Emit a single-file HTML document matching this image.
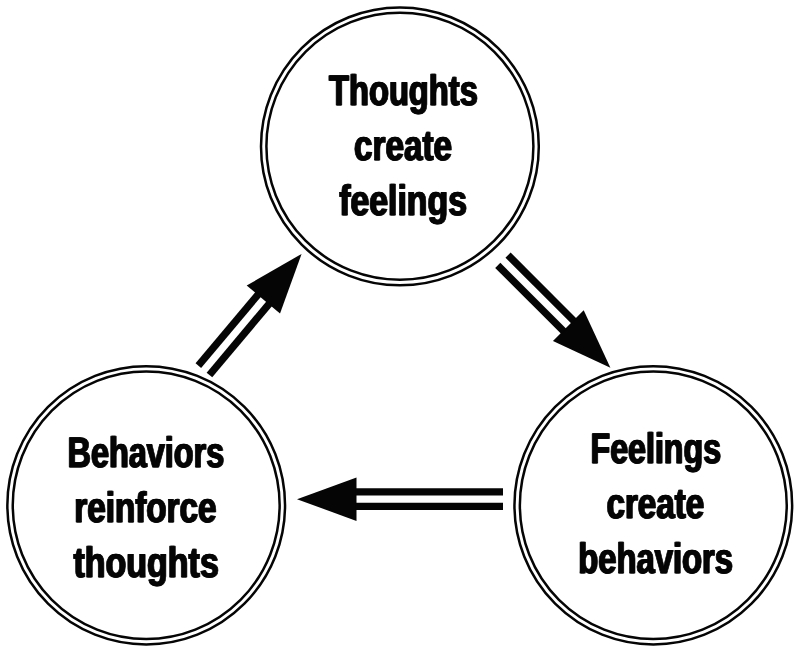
<!DOCTYPE html>
<html lang="en">
<head>
<meta charset="utf-8">
<title>Thoughts, feelings, behaviors cycle</title>
<style>
html,body{margin:0;padding:0;background:#fff;}
body{width:800px;height:650px;overflow:hidden;}
svg{display:block;}
.rings ellipse{fill:none;stroke:#050505;stroke-width:2.5;}
.labels text{font-family:"Liberation Sans",sans-serif;font-weight:bold;font-size:42.6px;text-rendering:geometricPrecision;fill:#050505;stroke:#050505;stroke-width:0.8;stroke-linejoin:round;}
</style>
</head>
<body>
<svg width="800" height="650" viewBox="0 0 800 650">
<defs>
<filter id="bold" x="0" y="0" width="800" height="650" filterUnits="userSpaceOnUse" color-interpolation-filters="sRGB">
<feOffset in="SourceGraphic" dx="1" dy="0" result="shifted"/>
<feMerge><feMergeNode in="SourceGraphic"/><feMergeNode in="shifted"/></feMerge>
</filter>
</defs>
<rect width="800" height="650" fill="#fff"/>
<g class="rings">
<ellipse cx="399.9" cy="146.4" rx="138.9" ry="138.93"/>
<ellipse cx="399.9" cy="146.3" rx="133.5" ry="133.5"/>
<ellipse cx="146.2" cy="505.3" rx="138.85" ry="139.15"/>
<ellipse cx="146.2" cy="505.3" rx="133.45" ry="133.75"/>
<ellipse cx="653.3" cy="505.3" rx="138.85" ry="139.15"/>
<ellipse cx="653.3" cy="505.3" rx="133.45" ry="133.8"/>
</g>
<g class="arrows" fill="#050505">
<polygon points="301.60,253.90 280.02,313.46 246.69,285.50"/>
<line x1="209.45" y1="375.00" x2="269.55" y2="303.37" stroke="#050505" stroke-width="7.30"/>
<line x1="198.34" y1="365.68" x2="258.44" y2="294.05" stroke="#050505" stroke-width="7.30"/>
<polygon points="610.40,367.70 552.95,341.01 583.71,310.25"/>
<line x1="497.79" y1="265.35" x2="563.91" y2="331.46" stroke="#050505" stroke-width="7.30"/>
<line x1="508.05" y1="255.09" x2="574.16" y2="321.21" stroke="#050505" stroke-width="7.30"/>
<polygon points="297.00,499.20 356.50,477.45 356.50,520.95"/>
<line x1="503.00" y1="491.95" x2="355.50" y2="491.95" stroke="#050505" stroke-width="7.30"/>
<line x1="503.00" y1="506.45" x2="355.50" y2="506.45" stroke="#050505" stroke-width="7.30"/>
</g>
<g class="labels" filter="url(#bold)">
<text x="328.59" y="105.40" textLength="148.71" lengthAdjust="spacingAndGlyphs">Thoughts</text>
<text x="353.60" y="160.40" textLength="97.82" lengthAdjust="spacingAndGlyphs">create</text>
<text x="338.78" y="215.40" textLength="127.67" lengthAdjust="spacingAndGlyphs">feelings</text>
<text x="67.06" y="467.00" textLength="156.65" lengthAdjust="spacingAndGlyphs">Behaviors</text>
<text x="73.70" y="522.10" textLength="142.39" lengthAdjust="spacingAndGlyphs">reinforce</text>
<text x="73.03" y="577.10" textLength="145.27" lengthAdjust="spacingAndGlyphs">thoughts</text>
<text x="590.06" y="463.10" textLength="130.51" lengthAdjust="spacingAndGlyphs">Feelings</text>
<text x="605.93" y="518.10" textLength="97.93" lengthAdjust="spacingAndGlyphs">create</text>
<text x="577.73" y="573.10" textLength="154.75" lengthAdjust="spacingAndGlyphs">behaviors</text>
</g>
</svg>
</body>
</html>
